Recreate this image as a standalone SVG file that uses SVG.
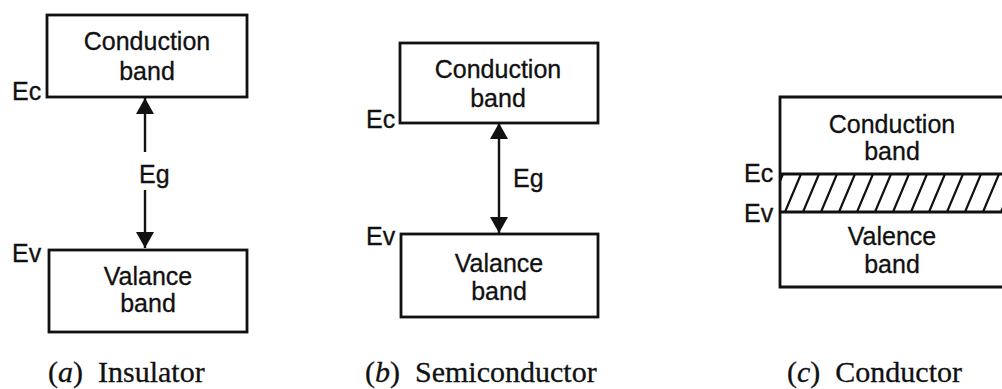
<svg xmlns="http://www.w3.org/2000/svg" width="1002" height="389" viewBox="0 0 1002 389">
<style>
.box{fill:none;stroke:#111;stroke-width:2.8}
.lbl{font-family:"Liberation Sans",Arial,sans-serif;font-size:25px;fill:#111;stroke:#111;stroke-width:0.3}
.mid{text-anchor:middle}
.cap{font-family:"Liberation Serif","Times New Roman",serif;font-size:30px;fill:#111;stroke:#111;stroke-width:0.3;white-space:pre}
.it{font-style:italic}
.conn{stroke:#111;stroke-width:2.4;fill:none}
.hatch{stroke:#111;stroke-width:2.2}
</style>
<defs>
<marker id="ah" markerUnits="userSpaceOnUse" markerWidth="16" markerHeight="18" refX="16" refY="9" orient="auto-start-reverse">
<path d="M0,0 L16,9 L0,18 z" fill="#111"/>
</marker>
<clipPath id="hc"><rect x="780" y="174" width="230" height="38"/></clipPath>
</defs>
<rect width="1002" height="389" fill="#fff"/>

<g id="insulator">
<g id="ins-cb"><rect class="box" x="47" y="15" width="200" height="82"/>
<text class="lbl mid" x="147" y="50">Conduction</text>
<text class="lbl mid" x="147" y="80">band</text></g>
<g id="ins-vb"><rect class="box" x="49" y="250" width="198" height="82"/>
<text class="lbl mid" x="148" y="285">Valance</text>
<text class="lbl mid" x="148" y="312">band</text></g>
<text class="lbl" x="12" y="100">Ec</text>
<text class="lbl" x="12" y="262">Ev</text>
<text class="lbl" x="139" y="183">Eg</text>
<text class="cap" x="48" y="382" xml:space="preserve">(<tspan class="it">a</tspan>)  Insulator</text>
</g>

<g id="semiconductor">
<g id="sem-cb"><rect class="box" x="400" y="43" width="198" height="80"/>
<text class="lbl mid" x="498" y="78">Conduction</text>
<text class="lbl mid" x="498" y="107">band</text></g>
<g id="sem-vb"><rect class="box" x="401" y="234" width="197" height="83"/>
<text class="lbl mid" x="499" y="272">Valance</text>
<text class="lbl mid" x="499" y="300">band</text></g>
<text class="lbl" x="366" y="128">Ec</text>
<text class="lbl" x="366" y="245">Ev</text>
<text class="lbl" x="513" y="187">Eg</text>
<text class="cap" x="365" y="382" xml:space="preserve">(<tspan class="it">b</tspan>)  Semiconductor</text>
</g>

<g id="conductor">
<g id="con-box">
<g clip-path="url(#hc)" class="hatch">
<path d="M767,212 l16,-38 M785,212 l16,-38 M803,212 l16,-38 M821,212 l16,-38 M839,212 l16,-38 M857,212 l16,-38 M875,212 l16,-38 M893,212 l16,-38 M911,212 l16,-38 M929,212 l16,-38 M947,212 l16,-38 M965,212 l16,-38 M983,212 l16,-38 M1001,212 l16,-38"/>
</g>
<path class="box" d="M1010,97 H780 V287 H1010 M780,174 H1010 M780,212 H1010"/>
<text class="lbl mid" x="892" y="133">Conduction</text>
<text class="lbl mid" x="892" y="160">band</text>
<text class="lbl mid" x="892" y="245">Valence</text>
<text class="lbl mid" x="892" y="273">band</text>
</g>
<text class="lbl" x="744" y="182">Ec</text>
<text class="lbl" x="744" y="222">Ev</text>
<text class="cap" x="787" y="382" xml:space="preserve">(<tspan class="it">c</tspan>)  Conductor</text>
</g>

<g id="connectors">
<line class="conn" x1="145" y1="152" x2="145" y2="98" marker-end="url(#ah)"/>
<line class="conn" x1="145" y1="190" x2="145" y2="248" marker-end="url(#ah)"/>
<line class="conn" x1="499" y1="123" x2="499" y2="233" marker-start="url(#ah)" marker-end="url(#ah)"/>
</g>
</svg>
